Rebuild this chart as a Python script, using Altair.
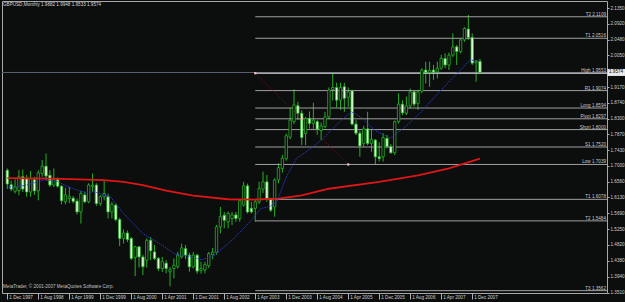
import altair as alt
import pandas as pd

FONT = "Liberation Sans"
GREEN = "#27b027"

# ---- data ----
MONTH_LABELS = ["1 Dec 1997", "1 Aug 1998", "1 Apr 1999", "1 Dec 1999", "1 Aug 2000",
                "1 Apr 2001", "1 Dec 2001", "1 Aug 2002", "1 Apr 2003", "1 Dec 2003",
                "1 Aug 2004", "1 Apr 2005", "1 Dec 2005", "1 Aug 2006", "1 Apr 2007",
                "1 Dec 2007"]

OPEN = [1.688, 1.648, 1.630, 1.632, 1.670, 1.665, 1.628, 1.662, 1.631, 1.679,
        1.699, 1.674, 1.647, 1.662, 1.644, 1.601, 1.610, 1.611, 1.603, 1.573,
        1.620, 1.601, 1.643, 1.647, 1.596, 1.615, 1.615, 1.573, 1.592, 1.552,
        1.500, 1.515, 1.500, 1.447, 1.477, 1.449, 1.440, 1.495, 1.463, 1.445,
        1.417, 1.432, 1.408, 1.417, 1.422, 1.449, 1.472, 1.454, 1.422, 1.454,
        1.412, 1.413, 1.425, 1.455, 1.462, 1.532, 1.564, 1.546, 1.555, 1.565,
        1.555, 1.592, 1.645, 1.583, 1.583, 1.601, 1.636, 1.656, 1.610, 1.587,
        1.661, 1.693, 1.720, 1.779, 1.822, 1.866, 1.845, 1.789, 1.831, 1.817,
        1.822, 1.797, 1.808, 1.835, 1.910, 1.916, 1.881, 1.918, 1.889, 1.907,
        1.815, 1.790, 1.762, 1.802, 1.762, 1.771, 1.725, 1.725, 1.776, 1.753,
        1.736, 1.822, 1.870, 1.845, 1.865, 1.904, 1.872, 1.906, 1.964, 1.957,
        1.964, 1.959, 1.969, 1.996, 1.978, 2.005, 2.028, 2.015, 2.047, 2.077,
        2.054, 1.984, 1.9882]
HIGH = [1.693, 1.659, 1.663, 1.688, 1.690, 1.675, 1.686, 1.670, 1.688, 1.716,
        1.734, 1.688, 1.693, 1.668, 1.647, 1.640, 1.642, 1.617, 1.610, 1.631,
        1.629, 1.652, 1.679, 1.652, 1.620, 1.661, 1.624, 1.601, 1.598, 1.557,
        1.525, 1.522, 1.504, 1.480, 1.479, 1.455, 1.500, 1.504, 1.482, 1.449,
        1.449, 1.440, 1.421, 1.445, 1.463, 1.486, 1.482, 1.461, 1.463, 1.458,
        1.436, 1.436, 1.463, 1.474, 1.537, 1.587, 1.573, 1.574, 1.573, 1.573,
        1.606, 1.656, 1.651, 1.601, 1.606, 1.656, 1.684, 1.675, 1.612, 1.666,
        1.707, 1.730, 1.789, 1.862, 1.911, 1.877, 1.854, 1.835, 1.850, 1.874,
        1.826, 1.820, 1.849, 1.916, 1.9553, 1.929, 1.929, 1.929, 1.916, 1.910,
        1.826, 1.797, 1.810, 1.849, 1.799, 1.774, 1.765, 1.790, 1.785, 1.760,
        1.825, 1.900, 1.881, 1.891, 1.913, 1.907, 1.909, 1.969, 1.987, 1.987,
        1.978, 1.987, 2.006, 2.010, 2.012, 2.065, 2.033, 2.051, 2.082, 2.116,
        2.065, 1.992, 1.9948]
LOW = [1.636, 1.630, 1.624, 1.619, 1.628, 1.615, 1.615, 1.620, 1.605, 1.670,
       1.661, 1.642, 1.642, 1.640, 1.594, 1.594, 1.597, 1.597, 1.566, 1.541,
       1.597, 1.597, 1.628, 1.590, 1.590, 1.605, 1.555, 1.555, 1.547, 1.479,
       1.486, 1.490, 1.440, 1.396, 1.420, 1.399, 1.420, 1.440, 1.440, 1.410,
       1.408, 1.404, 1.368, 1.390, 1.417, 1.445, 1.443, 1.408, 1.417, 1.403,
       1.403, 1.404, 1.418, 1.443, 1.455, 1.514, 1.528, 1.528, 1.537, 1.546,
       1.546, 1.588, 1.569, 1.569, 1.546, 1.595, 1.625, 1.601, 1.573, 1.560,
       1.652, 1.681, 1.714, 1.773, 1.815, 1.826, 1.757, 1.757, 1.803, 1.802,
       1.785, 1.771, 1.803, 1.830, 1.880, 1.861, 1.854, 1.849, 1.863, 1.812,
       1.785, 1.725, 1.753, 1.757, 1.739, 1.7039, 1.712, 1.712, 1.748, 1.734,
       1.730, 1.817, 1.840, 1.840, 1.858, 1.863, 1.854, 1.900, 1.927, 1.918,
       1.937, 1.941, 1.965, 1.969, 1.964, 2.000, 1.978, 2.010, 2.042, 2.047,
       1.978, 1.932, 1.9533]
CLOSE = [1.650, 1.636, 1.642, 1.670, 1.636, 1.628, 1.665, 1.631, 1.681, 1.699,
         1.672, 1.647, 1.662, 1.644, 1.604, 1.620, 1.615, 1.602, 1.573, 1.624,
         1.601, 1.647, 1.647, 1.596, 1.615, 1.624, 1.573, 1.594, 1.552, 1.500,
         1.515, 1.497, 1.445, 1.477, 1.449, 1.422, 1.495, 1.466, 1.445, 1.417,
         1.436, 1.417, 1.414, 1.426, 1.454, 1.474, 1.454, 1.422, 1.454, 1.410,
         1.417, 1.428, 1.458, 1.462, 1.532, 1.560, 1.550, 1.569, 1.565, 1.555,
         1.604, 1.645, 1.573, 1.573, 1.601, 1.638, 1.656, 1.610, 1.578, 1.661,
         1.695, 1.721, 1.783, 1.826, 1.868, 1.845, 1.778, 1.831, 1.817, 1.826,
         1.801, 1.810, 1.835, 1.909, 1.916, 1.881, 1.916, 1.886, 1.904, 1.815,
         1.790, 1.755, 1.802, 1.762, 1.773, 1.725, 1.720, 1.778, 1.753, 1.736,
         1.822, 1.870, 1.846, 1.865, 1.904, 1.870, 1.904, 1.964, 1.957, 1.963,
         1.958, 1.969, 1.996, 1.978, 2.005, 2.028, 2.015, 2.047, 2.079, 2.054,
         1.983, 1.988, 1.9574]

RED_IDX = [0, 12, 25, 30, 35, 41, 48, 57, 64, 70, 76, 83, 96, 106, 114, 122]
RED_VAL = [1.666, 1.665, 1.661, 1.656, 1.647, 1.632, 1.618, 1.608, 1.607, 1.610,
           1.619, 1.637, 1.656, 1.674, 1.693, 1.720]

BLUE_IDX = [0, 4.5, 9.6, 12.9, 16.4, 20.5, 22.3, 26.6, 29.9, 34.9, 39.3, 43.3,
            46.9, 50.2, 53.5, 58.6, 62.9, 65.4, 67.9, 69.5, 72.2, 74.7, 78.1,
            81.4, 85.7, 88.8, 91.3, 95.1, 98.9, 102.7, 106.0, 110.3, 114.4,
            119.5, 122.0]
BLUE_VAL = [1.641, 1.646, 1.661, 1.657, 1.639, 1.625, 1.629, 1.615, 1.570, 1.514,
            1.486, 1.457, 1.451, 1.441, 1.454, 1.501, 1.549, 1.582, 1.589, 1.600,
            1.674, 1.721, 1.746, 1.774, 1.821, 1.849, 1.834, 1.796, 1.777, 1.807,
            1.840, 1.890, 1.936, 1.992, 1.988]

LEVEL_NAMES = ["T2", "T1", "High", "R1", "Long", "Pivot", "Short", "S1", "Low",
               "T1", "T2", "T3"]
LEVEL_VALUES = [2.1109, 2.0516, 1.9553, 1.9074, 1.8594, 1.8297, 1.8000, 1.7520,
                1.7039, 1.6078, 1.5484, 1.3562]
LEVEL_START = 64

TREND_IDX = [64, 76, 88]
TREND_VAL = [1.9553, 1.8297, 1.7039]

BID = 1.9574
PRICE_TICKS = [2.1350, 2.0920, 2.0480, 2.0050, 1.9170, 1.8740, 1.8300, 1.7870,
               1.7430, 1.7000, 1.6560, 1.6130, 1.5690, 1.5250, 1.4820, 1.4380,
               1.3940, 1.3510]

TITLE = "GBPUSD,Monthly  1.9882 1.9948 1.9533 1.9574"
CREDIT = "MetaTrader, \u00a9 2001-2007 MetaQuotes Software Corp."

# ---- tables ----
candles = pd.DataFrame({"i": list(range(len(OPEN))), "o": OPEN, "h": HIGH,
                        "l": LOW, "c": CLOSE})
candles["bt"] = candles[["o", "c"]].max(axis=1)
candles["bb"] = candles[["o", "c"]].min(axis=1)
candles["bear"] = candles["c"] < candles["o"]

red = pd.DataFrame({"i": RED_IDX, "p": RED_VAL})
blue = pd.DataFrame({"i": BLUE_IDX, "p": BLUE_VAL})
levels = pd.DataFrame({"name": LEVEL_NAMES, "value": LEVEL_VALUES})
levels["start"] = LEVEL_START
levels["label"] = [f"{n} {v:.4f}" for n, v in zip(LEVEL_NAMES, LEVEL_VALUES)]
trend = pd.DataFrame({"i": TREND_IDX, "p": TREND_VAL})
bid = pd.DataFrame({"p": [BID], "lbl": [f"{BID:.4f}"]})

xs = alt.Scale(domain=[-0.08, 153.5], nice=False, zero=False)
ys = alt.Scale(domain=[1.3497, 2.1543], nice=False, zero=False)

labels_js = "[" + ",".join(f"'{s}'" for s in MONTH_LABELS) + "]"
XAXIS = alt.Axis(values=list(range(0, 8 * len(MONTH_LABELS), 8)),
                 labelExpr=f"{labels_js}[round(datum.value/8)]",
                 orient="bottom", domain=False, grid=False, ticks=True,
                 tickSize=6, tickColor="#b0b0b0",
                 labelAlign="left", labelBaseline="middle", labelPadding=-2,
                 labelOffset=1.5, labelOverlap=False, labelBound=False,
                 labelFlush=False, labelColor="#d0d0d0", labelFont=FONT,
                 labelFontSize=4.6, title=None)
YAXIS = alt.Axis(orient="right", values=PRICE_TICKS, format=".4f", domain=False,
                 grid=False, ticks=True, tickSize=2, tickColor="#b0b0b0",
                 labelPadding=1, labelOverlap=False, labelBound=False,
                 labelFlush=False, labelColor="#d0d0d0", labelFont=FONT,
                 labelFontSize=4.6, title=None)


def X(field):
    return alt.X(field, type="quantitative", scale=xs, axis=XAXIS)


def Y(field):
    return alt.Y(field, type="quantitative", scale=ys, axis=YAXIS)


bid_line = alt.Chart(bid).mark_rule(color="#5a6276", strokeWidth=1).encode(
    x=alt.value(0), x2=alt.value(605), y=Y("p"))

level_lines = alt.Chart(levels).mark_rule(strokeWidth=1, clip=True).encode(
    x=X("start"), x2=alt.value(605), y=Y("value"),
    color=alt.condition("datum.name == 'High'", alt.value("#e6e6e6"),
                        alt.value("#a0a0a0")))

wicks = alt.Chart(candles).mark_rule(color=GREEN, strokeWidth=1, clip=True).encode(
    x=X("i"), y=Y("l"), y2="h")

bodies = alt.Chart(candles).mark_bar(size=2.4, stroke=GREEN, strokeWidth=0.8,
                                     clip=True).encode(
    x=X("i"), y=Y("bb"), y2="bt",
    fill=alt.condition("datum.bear", alt.value("#e4ffdc"), alt.value("#0c0d0d")))

red_line = alt.Chart(red).mark_line(color="#e01616", strokeWidth=1.8,
                                    clip=True).encode(x=X("i"), y=Y("p"))

blue_line = alt.Chart(blue).mark_line(color="#2a3cc8", strokeWidth=1,
                                      strokeDash=[1.5, 1], clip=True).encode(
    x=X("i"), y=Y("p"))

trend_line = alt.Chart(trend).mark_line(color="#8c1024", strokeWidth=1,
                                        strokeDash=[1, 2], clip=True).encode(
    x=X("i"), y=Y("p"))
trend_pts = alt.Chart(trend).mark_square(size=5, color="#ffb8b8", opacity=1,
                                         clip=True).encode(x=X("i"), y=Y("p"))

level_text = alt.Chart(levels).mark_text(align="right", baseline="bottom",
                                         fontSize=4.6, font=FONT,
                                         color="#c8c8c8").encode(
    x=alt.value(604), y=Y("value"), text="label:N")

price_box = alt.Chart(bid).mark_tick(orient="horizontal", thickness=7, size=18,
                                     color="#e8e8e8", opacity=1,
                                     clip=False).encode(
    x=alt.value(614.5), y=Y("p"))
price_text = alt.Chart(bid).mark_text(align="left", baseline="middle",
                                      fontSize=4.6, font=FONT,
                                      color="#000000").encode(
    x=alt.value(607), y=Y("p"), text="lbl:N")

title = alt.Chart(pd.DataFrame({"t": [TITLE]})).mark_text(
    align="left", baseline="middle", fontSize=4.6, font=FONT,
    color="#d8d8d8").encode(x=alt.value(1), y=alt.value(4), text="t:N")
credit = alt.Chart(pd.DataFrame({"t": [CREDIT]})).mark_text(
    align="left", baseline="middle", fontSize=4.6, font=FONT,
    color="#c0c0c0").encode(x=alt.value(1), y=alt.value(286), text="t:N")

chart = alt.layer(
    wicks, bid_line, level_lines, bodies, red_line, blue_line, trend_line,
    trend_pts, level_text, price_box, price_text, title, credit
).properties(
    width=605, height=292,
    padding={"left": 2, "top": 1, "right": 18, "bottom": 9},
    autosize=alt.AutoSizeParams(type="none"),
    background="#0c0d0d",
).configure_view(
    stroke="#a8a8a8", strokeWidth=1
)

chart.save("out.html", embed_options={"renderer": "svg", "actions": False})
